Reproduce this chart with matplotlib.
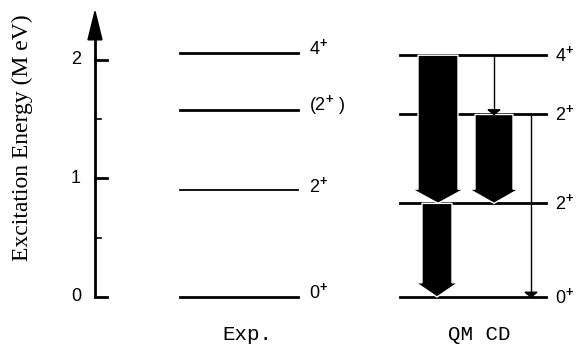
import matplotlib
matplotlib.use("Agg")
import matplotlib.pyplot as plt
from matplotlib.patches import Polygon

# ---------------- data ----------------
exp_energies = [0.0, 0.90, 1.58, 2.06]          # MeV
exp_labels = ["0$^{\\mathbf{+}}$", "2$^{\\mathbf{+}}$",
              "(2$^{\\mathbf{+}}$ )", "4$^{\\mathbf{+}}$"]
qmcd_energies = [0.0, 0.79, 1.54, 2.04]         # MeV
qmcd_labels = ["0$^{\\mathbf{+}}$", "2$^{\\mathbf{+}}$",
               "2$^{\\mathbf{+}}$", "4$^{\\mathbf{+}}$"]
# (from level, to level, relative strength) in QMCD
big_transitions = [(3, 1, 1.0), (2, 1, 0.95), (1, 0, 0.75)]
thin_transitions = [(3, 2), (2, 0)]
y_ticks = [0, 1, 2]
y_minor = [0.5, 1.5]

plt.rcParams["mathtext.fontset"] = "custom"
plt.rcParams["mathtext.rm"] = "Liberation Sans"
plt.rcParams["mathtext.bf"] = "Liberation Sans:bold"

fig = plt.figure(figsize=(5.79, 3.47), dpi=100)
ax = fig.add_axes([0, 0, 1, 1])
ax.set_xlim(0, 579)
ax.set_ylim(-0.422, 2.506)
ax.axis("off")

# ---------------- energy axis ----------------
AX_X = 95
ax.plot([AX_X, AX_X], [0, 2.2], color="black", lw=2, solid_capstyle="butt")
ax.add_patch(Polygon([[AX_X - 7, 2.17], [AX_X + 7, 2.17], [AX_X, 2.41]],
                     closed=True, color="black"))
for t in y_ticks:
    ax.plot([AX_X, AX_X + 12], [t, t], color="black", lw=2)
    ax.text(81, t, str(t), ha="right", va="center", fontsize=13,
            family="Liberation Sans")
for t in y_minor:
    ax.plot([AX_X, AX_X + 6], [t, t], color="black", lw=1.2)
ax.text(22, 1.34, "Excitation Energy (M eV)", rotation=90, ha="center",
        va="center", fontsize=17, family="Liberation Serif")

# ---------------- experimental levels ----------------
EXP_X0, EXP_X1 = 180, 298
for e, lab in zip(exp_energies, exp_labels):
    lw = 1.3 if e == exp_energies[1] else 2
    ax.plot([EXP_X0, EXP_X1], [e, e], color="black", lw=lw)
    ax.text(309, e + 0.04, lab, ha="left", va="center", fontsize=13,
            family="Liberation Sans")

# ---------------- QMCD levels ----------------
Q_X0, Q_X1 = 400, 546
for e, lab in zip(qmcd_energies, qmcd_labels):
    ax.plot([Q_X0, Q_X1], [e, e], color="black", lw=2)
    ax.text(555, e, lab, ha="left", va="center", fontsize=13,
            family="Liberation Sans")


def block_arrow(x, y0, y1, body_w, head_w, head_len):
    yh = y1 + head_len
    pts = [[x - body_w / 2, y0], [x + body_w / 2, y0], [x + body_w / 2, yh],
           [x + head_w / 2, yh], [x, y1], [x - head_w / 2, yh],
           [x - body_w / 2, yh]]
    ax.add_patch(Polygon(pts, closed=True, facecolor="black",
                         edgecolor="white", lw=1, zorder=3))


big_x = [438, 494, 437]
for (i, j, s), x in zip(big_transitions, big_x):
    block_arrow(x, qmcd_energies[i], qmcd_energies[j],
                40 * s, 40 * s + 12, 0.12)

thin_x = [494, 531]
for (i, j), x in zip(thin_transitions, thin_x):
    ax.plot([x, x], [qmcd_energies[i], qmcd_energies[j] + 0.03],
            color="black", lw=1)
    ax.add_patch(Polygon([[x - 6, qmcd_energies[j] + 0.04],
                          [x + 6, qmcd_energies[j] + 0.04],
                          [x, qmcd_energies[j]]], closed=True,
                         color="black", zorder=4))

# ---------------- column labels ----------------
ax.text(247, -0.32, "Exp.", ha="center", va="center", fontsize=15,
        family="Liberation Mono")
ax.text(479, -0.32, "QM CD", ha="center", va="center", fontsize=15,
        family="Liberation Mono")

fig.savefig("out.png", dpi=100)
